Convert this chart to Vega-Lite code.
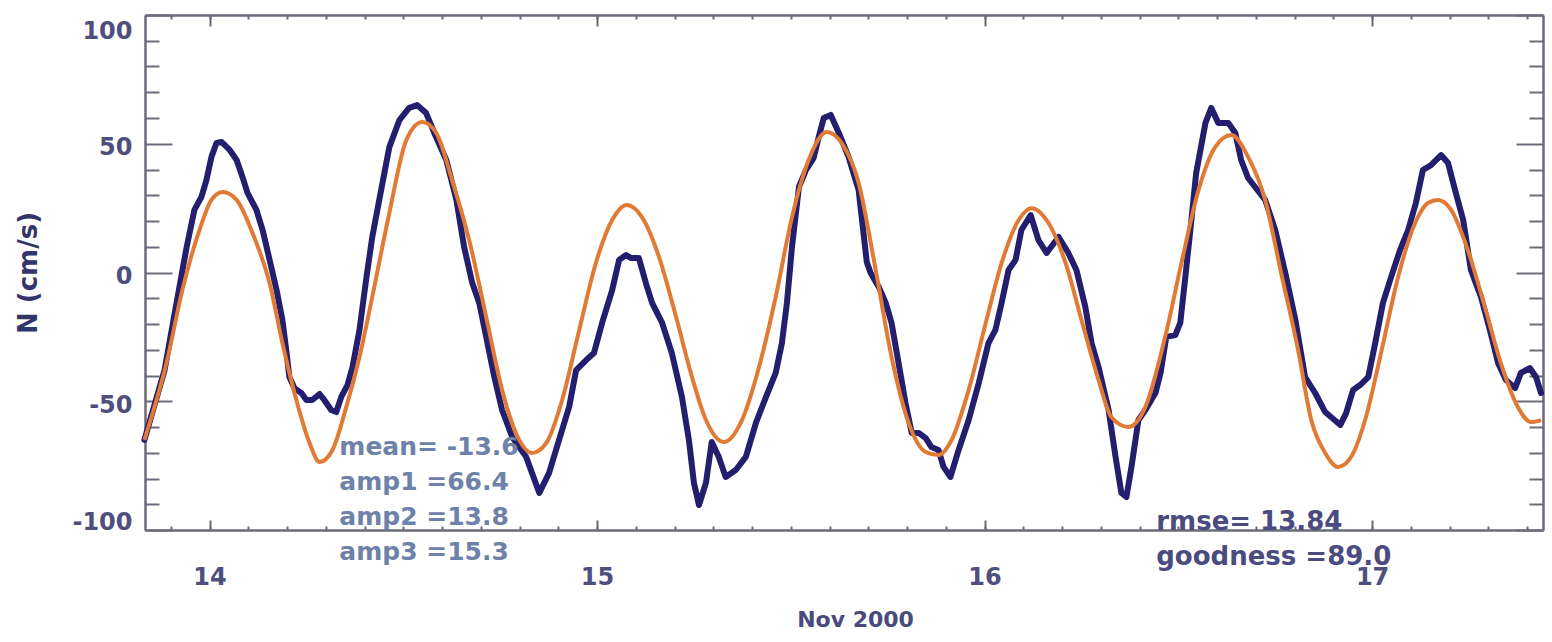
{
  "$schema": "https://vega.github.io/schema/vega-lite/v6.json",
  "width": 1398,
  "height": 515,
  "autosize": {"type": "none"},
  "padding": {"left": 145, "top": 15, "right": 9, "bottom": 112},
  "background": "white",
  "config": {
    "view": {"stroke": null},
    "axis": {
      "grid": false,
      "domainColor": "#6b6b7b",
      "domainWidth": 2,
      "tickColor": "#6b6b7b",
      "tickWidth": 2,
      "labelFont": "DejaVu Sans",
      "labelFontWeight": "bold",
      "labelFontSize": 24,
      "labelColor": "#4f4f7c",
      "titleFont": "DejaVu Sans",
      "titleFontWeight": "bold"
    }
  },
  "datasets": {
    "obs": [
      {"t": 13.832, "v": -65.0}, {"t": 13.884, "v": -37.9}, {"t": 13.915, "v": -11.8}, {"t": 13.941, "v": 9.9},
      {"t": 13.961, "v": 24.3}, {"t": 13.979, "v": 29.3}, {"t": 13.992, "v": 35.9}, {"t": 14.005, "v": 44.9},
      {"t": 14.018, "v": 50.3}, {"t": 14.031, "v": 50.7}, {"t": 14.052, "v": 47.6}, {"t": 14.070, "v": 43.7},
      {"t": 14.085, "v": 37.1}, {"t": 14.098, "v": 30.9}, {"t": 14.121, "v": 24.3}, {"t": 14.137, "v": 16.5},
      {"t": 14.155, "v": 4.9}, {"t": 14.173, "v": -6.8}, {"t": 14.188, "v": -18.4}, {"t": 14.198, "v": -30.1},
      {"t": 14.206, "v": -40.6}, {"t": 14.219, "v": -44.9}, {"t": 14.237, "v": -46.8}, {"t": 14.250, "v": -49.5},
      {"t": 14.265, "v": -49.5}, {"t": 14.284, "v": -47.2}, {"t": 14.296, "v": -49.5}, {"t": 14.314, "v": -53.4},
      {"t": 14.327, "v": -54.2}, {"t": 14.340, "v": -48.3}, {"t": 14.356, "v": -43.7}, {"t": 14.369, "v": -36.7},
      {"t": 14.387, "v": -22.3}, {"t": 14.405, "v": -1.8}, {"t": 14.420, "v": 13.8}, {"t": 14.438, "v": 28.2},
      {"t": 14.464, "v": 48.7}, {"t": 14.490, "v": 59.2}, {"t": 14.515, "v": 63.9}, {"t": 14.536, "v": 65.0},
      {"t": 14.559, "v": 61.9}, {"t": 14.580, "v": 54.2}, {"t": 14.611, "v": 43.7}, {"t": 14.637, "v": 28.2},
      {"t": 14.657, "v": 9.9}, {"t": 14.678, "v": -4.1}, {"t": 14.696, "v": -11.8}, {"t": 14.714, "v": -25.0},
      {"t": 14.735, "v": -40.6}, {"t": 14.755, "v": -53.4}, {"t": 14.781, "v": -63.9}, {"t": 14.817, "v": -71.6},
      {"t": 14.851, "v": -85.6}, {"t": 14.876, "v": -77.9}, {"t": 14.902, "v": -65.0}, {"t": 14.928, "v": -52.2},
      {"t": 14.946, "v": -37.9}, {"t": 14.972, "v": -34.0}, {"t": 14.992, "v": -31.3}, {"t": 15.013, "v": -19.6},
      {"t": 15.039, "v": -6.8}, {"t": 15.057, "v": 4.9}, {"t": 15.075, "v": 6.8}, {"t": 15.088, "v": 5.6},
      {"t": 15.108, "v": 5.6}, {"t": 15.126, "v": -4.1}, {"t": 15.142, "v": -11.8}, {"t": 15.168, "v": -19.6},
      {"t": 15.193, "v": -31.3}, {"t": 15.219, "v": -48.3}, {"t": 15.237, "v": -65.0}, {"t": 15.250, "v": -81.7},
      {"t": 15.263, "v": -90.3}, {"t": 15.281, "v": -81.7}, {"t": 15.296, "v": -65.8}, {"t": 15.314, "v": -71.6},
      {"t": 15.332, "v": -79.4}, {"t": 15.358, "v": -76.7}, {"t": 15.384, "v": -71.6}, {"t": 15.410, "v": -58.4},
      {"t": 15.436, "v": -48.3}, {"t": 15.461, "v": -39.0}, {"t": 15.477, "v": -27.4}, {"t": 15.490, "v": -11.8},
      {"t": 15.503, "v": 9.9}, {"t": 15.521, "v": 33.2}, {"t": 15.539, "v": 39.8}, {"t": 15.559, "v": 44.5},
      {"t": 15.572, "v": 52.6}, {"t": 15.585, "v": 60.0}, {"t": 15.603, "v": 61.2}, {"t": 15.624, "v": 54.2},
      {"t": 15.649, "v": 44.9}, {"t": 15.675, "v": 32.0}, {"t": 15.696, "v": 4.1}, {"t": 15.706, "v": -0.2},
      {"t": 15.727, "v": -5.6}, {"t": 15.745, "v": -11.8}, {"t": 15.760, "v": -19.6}, {"t": 15.778, "v": -35.1},
      {"t": 15.796, "v": -50.7}, {"t": 15.812, "v": -62.3}, {"t": 15.830, "v": -62.3}, {"t": 15.848, "v": -64.3},
      {"t": 15.863, "v": -67.8}, {"t": 15.881, "v": -68.9}, {"t": 15.894, "v": -75.5}, {"t": 15.912, "v": -79.4},
      {"t": 15.933, "v": -68.9}, {"t": 15.959, "v": -57.3}, {"t": 15.985, "v": -42.9}, {"t": 16.010, "v": -27.4},
      {"t": 16.028, "v": -22.3}, {"t": 16.044, "v": -11.8}, {"t": 16.062, "v": 1.0}, {"t": 16.080, "v": 4.9},
      {"t": 16.095, "v": 16.5}, {"t": 16.119, "v": 22.3}, {"t": 16.139, "v": 12.6}, {"t": 16.160, "v": 7.6},
      {"t": 16.191, "v": 13.8}, {"t": 16.216, "v": 7.6}, {"t": 16.237, "v": 1.0}, {"t": 16.260, "v": -13.4},
      {"t": 16.276, "v": -27.4}, {"t": 16.294, "v": -36.7}, {"t": 16.320, "v": -53.4}, {"t": 16.338, "v": -71.6},
      {"t": 16.353, "v": -85.6}, {"t": 16.366, "v": -87.2}, {"t": 16.379, "v": -75.5}, {"t": 16.397, "v": -57.3},
      {"t": 16.415, "v": -53.4}, {"t": 16.441, "v": -46.8}, {"t": 16.454, "v": -39.0}, {"t": 16.469, "v": -25.0},
      {"t": 16.492, "v": -24.3}, {"t": 16.505, "v": -19.6}, {"t": 16.518, "v": -1.8}, {"t": 16.531, "v": 16.5},
      {"t": 16.546, "v": 38.6}, {"t": 16.570, "v": 58.1}, {"t": 16.585, "v": 63.9}, {"t": 16.603, "v": 58.1},
      {"t": 16.629, "v": 58.1}, {"t": 16.647, "v": 54.2}, {"t": 16.662, "v": 43.7}, {"t": 16.680, "v": 36.7},
      {"t": 16.698, "v": 33.2}, {"t": 16.724, "v": 28.2}, {"t": 16.750, "v": 16.5}, {"t": 16.776, "v": -0.2},
      {"t": 16.802, "v": -18.4}, {"t": 16.827, "v": -40.6}, {"t": 16.853, "v": -46.8}, {"t": 16.879, "v": -54.2},
      {"t": 16.894, "v": -56.1}, {"t": 16.918, "v": -59.2}, {"t": 16.933, "v": -54.6}, {"t": 16.951, "v": -45.6},
      {"t": 16.969, "v": -43.7}, {"t": 16.990, "v": -40.6}, {"t": 17.008, "v": -27.4}, {"t": 17.028, "v": -11.8},
      {"t": 17.049, "v": -1.8}, {"t": 17.072, "v": 8.7}, {"t": 17.093, "v": 16.5}, {"t": 17.113, "v": 27.0},
      {"t": 17.131, "v": 39.8}, {"t": 17.152, "v": 41.7}, {"t": 17.178, "v": 45.6}, {"t": 17.196, "v": 42.5},
      {"t": 17.214, "v": 32.0}, {"t": 17.235, "v": 20.4}, {"t": 17.255, "v": 1.0}, {"t": 17.281, "v": -9.5},
      {"t": 17.304, "v": -22.3}, {"t": 17.325, "v": -35.1}, {"t": 17.345, "v": -41.7}, {"t": 17.369, "v": -44.9},
      {"t": 17.384, "v": -39.0}, {"t": 17.407, "v": -37.1}, {"t": 17.423, "v": -40.6}, {"t": 17.436, "v": -46.8}
    ],
    "fit": [
      {"t": 13.832, "v": -65.0}, {"t": 13.889, "v": -35.1}, {"t": 13.930, "v": -6.8}, {"t": 13.974, "v": 16.5},
      {"t": 14.005, "v": 28.2}, {"t": 14.034, "v": 31.3}, {"t": 14.070, "v": 28.2}, {"t": 14.111, "v": 15.3},
      {"t": 14.155, "v": -4.1}, {"t": 14.188, "v": -27.4}, {"t": 14.224, "v": -49.5}, {"t": 14.258, "v": -66.2},
      {"t": 14.284, "v": -73.6}, {"t": 14.317, "v": -69.0}, {"t": 14.353, "v": -52.2}, {"t": 14.387, "v": -32.8},
      {"t": 14.420, "v": -9.5}, {"t": 14.464, "v": 23.1}, {"t": 14.508, "v": 51.5}, {"t": 14.549, "v": 58.4},
      {"t": 14.585, "v": 54.2}, {"t": 14.626, "v": 35.9}, {"t": 14.670, "v": 12.6}, {"t": 14.714, "v": -17.3},
      {"t": 14.755, "v": -45.6}, {"t": 14.799, "v": -65.0}, {"t": 14.832, "v": -70.1}, {"t": 14.869, "v": -66.2},
      {"t": 14.910, "v": -49.5}, {"t": 14.954, "v": -22.3}, {"t": 14.997, "v": 3.7}, {"t": 15.039, "v": 20.4},
      {"t": 15.077, "v": 26.2}, {"t": 15.116, "v": 21.5}, {"t": 15.160, "v": 6.0}, {"t": 15.204, "v": -17.3},
      {"t": 15.245, "v": -40.6}, {"t": 15.281, "v": -57.3}, {"t": 15.327, "v": -65.8}, {"t": 15.374, "v": -57.3},
      {"t": 15.418, "v": -36.7}, {"t": 15.461, "v": -9.5}, {"t": 15.503, "v": 21.5}, {"t": 15.546, "v": 43.7},
      {"t": 15.593, "v": 54.6}, {"t": 15.631, "v": 50.3}, {"t": 15.675, "v": 34.8}, {"t": 15.719, "v": 1.0},
      {"t": 15.760, "v": -32.8}, {"t": 15.804, "v": -58.4}, {"t": 15.848, "v": -69.7}, {"t": 15.881, "v": -70.9},
      {"t": 15.915, "v": -65.0}, {"t": 15.959, "v": -45.6}, {"t": 16.003, "v": -19.6}, {"t": 16.044, "v": 3.7},
      {"t": 16.088, "v": 20.4}, {"t": 16.121, "v": 25.0}, {"t": 16.165, "v": 19.2}, {"t": 16.209, "v": 3.7},
      {"t": 16.250, "v": -18.4}, {"t": 16.294, "v": -41.7}, {"t": 16.327, "v": -56.1}, {"t": 16.371, "v": -60.0},
      {"t": 16.415, "v": -52.2}, {"t": 16.466, "v": -25.0}, {"t": 16.508, "v": 3.7}, {"t": 16.552, "v": 32.0},
      {"t": 16.595, "v": 48.7}, {"t": 16.637, "v": 53.4}, {"t": 16.680, "v": 44.9}, {"t": 16.724, "v": 28.2},
      {"t": 16.765, "v": 0.0}, {"t": 16.809, "v": -30.1}, {"t": 16.843, "v": -57.3}, {"t": 16.879, "v": -70.1},
      {"t": 16.912, "v": -75.5}, {"t": 16.946, "v": -71.6}, {"t": 16.982, "v": -57.3}, {"t": 17.023, "v": -31.3},
      {"t": 17.067, "v": -1.8}, {"t": 17.111, "v": 19.2}, {"t": 17.144, "v": 27.0}, {"t": 17.170, "v": 28.2},
      {"t": 17.204, "v": 24.3}, {"t": 17.247, "v": 8.7}, {"t": 17.291, "v": -13.4}, {"t": 17.332, "v": -35.1},
      {"t": 17.376, "v": -52.2}, {"t": 17.410, "v": -58.1}, {"t": 17.436, "v": -57.3}
    ],
    "statsLeft": [{"lines": ["mean= -13.6", "amp1 =66.4", "amp2 =13.8", "amp3 =15.3"]}],
    "statsRight": [{"lines": ["rmse= 13.84", "goodness =89.0"]}]
  },
  "resolve": {"axis": {"x": "independent", "y": "independent"}},
  "layer": [
    {
      "data": {"name": "obs"},
      "mark": {"type": "line", "color": "#231e6e", "strokeWidth": 6, "strokeJoin": "round", "strokeCap": "round"},
      "encoding": {
        "x": {
          "field": "t", "type": "quantitative",
          "scale": {"domain": [13.8335, 17.441], "nice": false, "zero": false},
          "axis": {
            "orient": "bottom", "values": [14, 15, 16, 17], "format": "d",
            "tickSize": -10, "labelPadding": 57, "labelBaseline": "middle", "labelFlush": false,
            "title": "Nov 2000", "titleFontSize": 22, "titleColor": "#4a4a7c",
            "titleX": 710, "titleY": 89, "titleAlign": "center", "titleBaseline": "middle"
          }
        },
        "y": {
          "field": "v", "type": "quantitative",
          "scale": {"domain": [-100, 100], "nice": false, "zero": false},
          "axis": {
            "orient": "left", "values": [-100, -50, 0, 50, 100],
            "labelExpr": "replace(datum.label, '\u2212', '-')",
            "tickSize": -27, "labelPadding": 40, "labelFlush": true, "labelOffset": 4,
            "title": "N (cm/s)", "titleFontSize": 26, "titleColor": "#34346c",
            "titleAngle": -90, "titleX": -117, "titleY": 257.5, "titleAlign": "center", "titleBaseline": "middle"
          }
        }
      }
    },
    {
      "data": {"name": "fit"},
      "mark": {"type": "line", "color": "#e07a35", "strokeWidth": 4, "interpolate": "monotone"},
      "encoding": {
        "x": {
          "field": "t", "type": "quantitative",
          "axis": {
            "orient": "bottom", "labels": false, "title": null, "tickSize": -4,
            "values": [13.9, 14.0, 14.1, 14.2, 14.3, 14.4, 14.5, 14.6, 14.7, 14.8, 14.9, 15.0, 15.1, 15.2, 15.3, 15.4, 15.5, 15.6, 15.7, 15.8, 15.9, 16.0, 16.1, 16.2, 16.3, 16.4, 16.5, 16.6, 16.7, 16.8, 16.9, 17.0, 17.1, 17.2, 17.3, 17.4]
          }
        },
        "y": {
          "field": "v", "type": "quantitative",
          "axis": {
            "orient": "left", "labels": false, "title": null, "tickSize": -14,
            "values": [-90, -80, -70, -60, -40, -30, -20, -10, 10, 20, 30, 40, 60, 70, 80, 90]
          }
        }
      }
    },
    {
      "data": {"name": "statsLeft"},
      "mark": {"type": "text", "align": "left", "baseline": "top", "font": "DejaVu Sans", "fontWeight": "bold", "fontSize": 25, "lineHeight": 35, "color": "#6e81a8"},
      "encoding": {
        "x": {
          "datum": 14.335, "type": "quantitative",
          "axis": {"orient": "top", "labels": false, "title": null, "tickSize": -11, "values": [14, 15, 16, 17]}
        },
        "y": {
          "datum": -63.0, "type": "quantitative",
          "axis": {"orient": "right", "labels": false, "title": null, "tickSize": -27, "values": [-100, -50, 0, 50, 100]}
        },
        "text": {"field": "lines", "type": "nominal"}
      }
    },
    {
      "data": {"name": "statsRight"},
      "mark": {"type": "text", "align": "left", "baseline": "top", "font": "DejaVu Sans", "fontWeight": "bold", "fontSize": 26, "lineHeight": 35, "color": "#4b4b80"},
      "encoding": {
        "x": {
          "datum": 16.443, "type": "quantitative",
          "axis": {
            "orient": "top", "labels": false, "title": null, "tickSize": -4,
            "values": [13.9, 14.0, 14.1, 14.2, 14.3, 14.4, 14.5, 14.6, 14.7, 14.8, 14.9, 15.0, 15.1, 15.2, 15.3, 15.4, 15.5, 15.6, 15.7, 15.8, 15.9, 16.0, 16.1, 16.2, 16.3, 16.4, 16.5, 16.6, 16.7, 16.8, 16.9, 17.0, 17.1, 17.2, 17.3, 17.4]
          }
        },
        "y": {
          "datum": -92.0, "type": "quantitative",
          "axis": {
            "orient": "right", "labels": false, "title": null, "tickSize": -14,
            "values": [-90, -80, -70, -60, -40, -30, -20, -10, 10, 20, 30, 40, 60, 70, 80, 90]
          }
        },
        "text": {"field": "lines", "type": "nominal"}
      }
    }
  ]
}
